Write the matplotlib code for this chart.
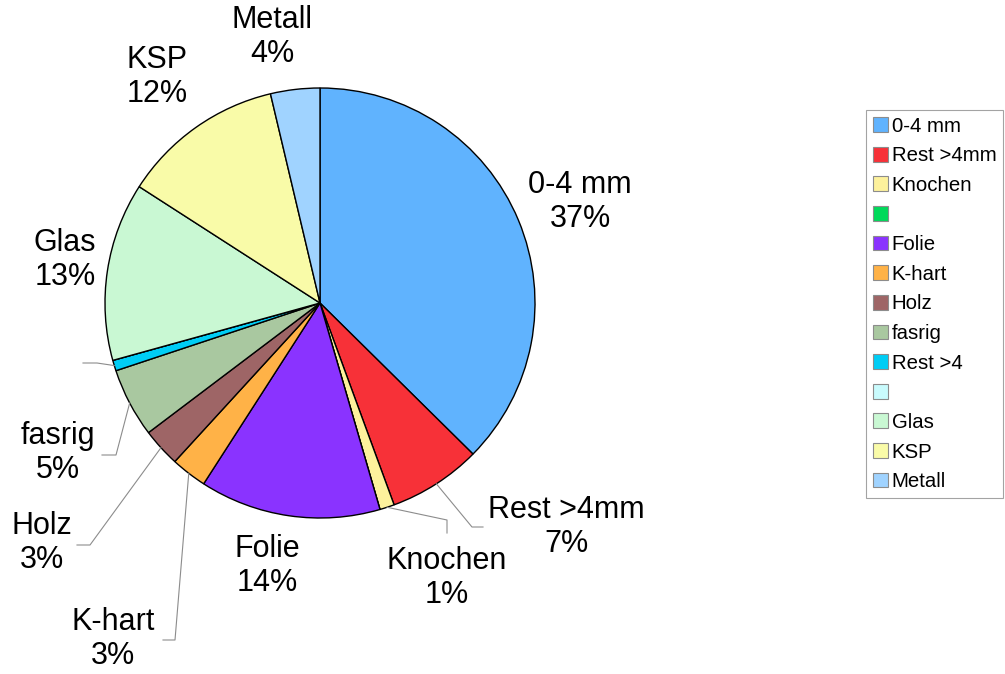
import numpy as np
import matplotlib

matplotlib.use("Agg")
import matplotlib.pyplot as plt

plt.rcParams["font.family"] = ["Liberation Sans", "DejaVu Sans"]

# share of each fraction in percent (two classes are empty)
names = [
    "0-4 mm", "Rest >4mm", "Knochen", "", "Folie", "K-hart", "Holz",
    "fasrig", "Rest >4", "", "Glas", "KSP", "Metall",
]
shares = [37.4, 7.0, 1.1, 0.0, 13.6, 2.7, 2.9, 5.2, 0.8, 0.0, 13.4, 12.2, 3.7]
colors = [
    "#60b3fe", "#f73138", "#fdf19c", "#00d95a", "#8a33ff", "#ffb247", "#9e6566",
    "#a9c8a0", "#00cdf5", "#c9fbfd", "#c9f8d3", "#f9fba8", "#a0d3ff",
]

# text centres and leader line knees, in pixels from the top left corner
label_pos = {
    0: (580, 202), 1: (566, 527), 2: (447, 578), 4: (267, 566), 5: (113, 639),
    6: (42, 543), 7: (58, 453), 10: (65, 260), 11: (157, 77), 12: (272, 37),
}
leaders = {
    1: [(472, 527), (483, 527)],
    2: [(447, 520), (447, 533)],
    5: [(175, 640), (163, 640)],
    6: [(90, 545), (77, 545)],
    7: [(116, 455), (102, 455)],
    8: [(97, 363), (83, 363)],
}

W, H = 1005, 674
cx, cy, radius = 320, 303, 215

fig = plt.figure(figsize=(W / 100, H / 100), dpi=100)
ax = fig.add_axes([0, 0, 1, 1])

wedges, _ = ax.pie(
    shares,
    colors=colors,
    startangle=90,
    counterclock=False,
    center=(cx, H - cy),
    radius=radius,
    wedgeprops={"edgecolor": "black", "linewidth": 1.0},
)

for i, (x, y) in label_pos.items():
    ax.text(x, H - y, f"{names[i]}\n{round(shares[i])}%", ha="center",
            va="center", fontsize=22, linespacing=1.15)

# grey leader lines start in the middle of the wedge's arc
for i, pts in leaders.items():
    w = wedges[i]
    ang = np.deg2rad((w.theta1 + w.theta2) / 2)
    xs = [cx + radius * np.cos(ang)] + [p[0] for p in pts]
    ys = [H - cy + radius * np.sin(ang)] + [H - p[1] for p in pts]
    ax.plot(xs, ys, color="#8c8c8c", linewidth=0.8)

ax.set_xlim(0, W)
ax.set_ylim(0, H)
ax.set_aspect("equal")
ax.axis("off")

leg = fig.legend(
    wedges, names,
    loc="upper left",
    bbox_to_anchor=(866 / W, 1 - 110 / H),
    borderaxespad=0,
    fontsize=14.7,
    frameon=True,
    fancybox=False,
    edgecolor="#8c8c8c",
    handlelength=0.73,
    handleheight=0.73,
    handletextpad=0.2,
    labelspacing=0.52,
    borderpad=0.33,
)
leg.get_frame().set_linewidth(0.8)
for h in leg.legend_handles:
    h.set_edgecolor("#8c8c8c")
    h.set_linewidth(0.8)

fig.savefig("out.png", dpi=100)
